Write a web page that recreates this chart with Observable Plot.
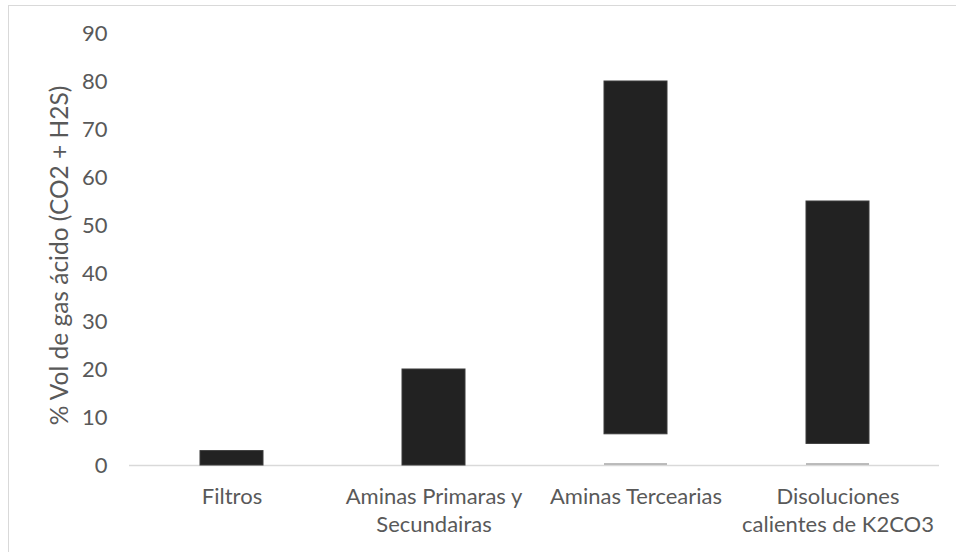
<!DOCTYPE html>
<html>
<head>
<meta charset="utf-8">
<script src="https://cdn.jsdelivr.net/npm/d3@7"></script>
<script src="https://cdn.jsdelivr.net/npm/@observablehq/plot@0.6"></script>
<style>
  html, body { margin: 0; padding: 0; background: #fff; }
  #wrap { position: relative; width: 956px; height: 552px; overflow: hidden; }
  #frame { position: absolute; left: 8px; top: 5px; width: 960px; height: 560px; border: 1.5px solid #d9d9d9; box-sizing: border-box; }
  #chart { position: absolute; left: 0; top: 0; }
</style>
</head>
<body>
<div id="wrap"><div id="frame"></div><div id="chart"></div></div>
<script>
const categories = ["Filtros", "Aminas Primaras y\nSecundairas", "Aminas Tercearias", "Disoluciones\ncalientes de K2CO3"];
const lowValues = [0, 0, 6.5, 4.5];
const highValues = [3, 20, 80, 55];
const baseMarkers = [null, null, 0.3, 0.3];
const yTicks = [0, 10, 20, 30, 40, 50, 60, 70, 80, 90];
const yLabel = "% Vol de gas ácido (CO2 + H2S)";

const data = categories.map((c, i) => ({cat: c, low: lowValues[i], high: highValues[i], base: baseMarkers[i]}));

const chart = Plot.plot({
  width: 956,
  height: 552,
  marginLeft: 129,
  marginRight: 17,
  marginTop: 33,
  marginBottom: 87,
  style: {fontFamily: "Lato, 'Open Sans', sans-serif", fontSize: "22px", color: "#595959", background: "transparent"},
  x: {domain: categories, paddingInner: 0.69, paddingOuter: 0.345, label: null},
  y: {domain: [0, 90], ticks: yTicks, label: null},
  marks: [
    Plot.ruleY([0], {stroke: "#d9d9d9", strokeWidth: 1.5}),
    Plot.barY(data, {x: "cat", y1: "low", y2: "high", fill: "#222222", stroke: "#3a3a3a", strokeWidth: 1}),
    Plot.tickY(data.filter(d => d.base != null), {x: "cat", y: "base", stroke: "#a6a6a6", strokeWidth: 1.5}),
    Plot.axisY({ticks: yTicks, tickSize: 0, tickPadding: 22, label: null}),
    Plot.axisX({tickSize: 0, tickPadding: 19, lineHeight: 1.27, label: null}),
    Plot.text([yLabel], {frameAnchor: "left", rotate: -90, dx: -69, dy: 6, textAnchor: "middle", lineAnchor: "middle", fontSize: 24.5, fill: "#595959"})
  ]
});
document.getElementById("chart").appendChild(chart);
</script>
</body>
</html>
